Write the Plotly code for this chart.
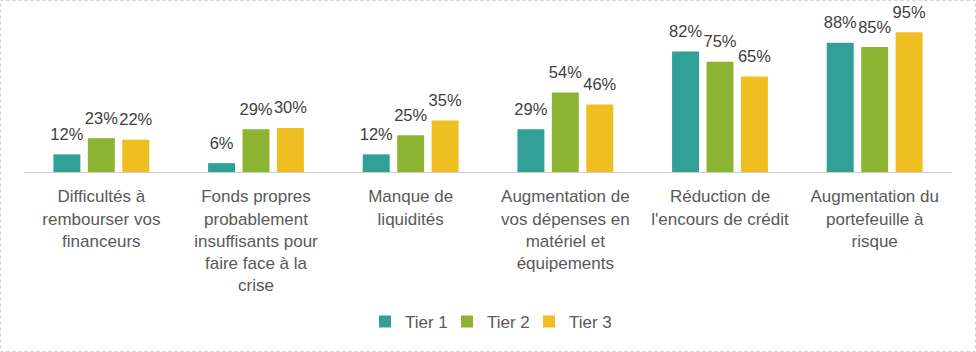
import plotly.graph_objects as go

categories = [
    "Difficultés à<br>rembourser vos<br>financeurs",
    "Fonds propres<br>probablement<br>insuffisants pour<br>faire face à la<br>crise",
    "Manque de<br>liquidités",
    "Augmentation de<br>vos dépenses en<br>matériel et<br>équipements",
    "Réduction de<br>l'encours de crédit",
    "Augmentation du<br>portefeuille à<br>risque",
]
tier1 = [12, 6, 12, 29, 82, 88]
tier2 = [23, 29, 25, 54, 75, 85]
tier3 = [22, 30, 35, 46, 65, 95]
series_names = ["Tier 1", "Tier 2", "Tier 3"]
colors = ["#31A096", "#8DB333", "#F0BE21"]

W, H = 976, 352
ml, mr, mt, mb = 24, 24, 25, 180
FONT = "Liberation Sans, Arial, sans-serif"

fig = go.Figure()
for name, vals, col in zip(series_names, [tier1, tier2, tier3], colors):
    fig.add_trace(go.Bar(
        x=categories, y=vals, name=name,
        marker=dict(color=col, line=dict(width=0)),
        offsetgroup=name,
    ))
for name, vals in zip(series_names, [tier1, tier2, tier3]):
    fig.add_trace(go.Scatter(
        x=categories, y=vals, mode="markers+text", showlegend=False,
        text=[f"{v}%" for v in vals], textposition="top center",
        textfont=dict(family=FONT, size=16.5, color="#404040"),
        marker=dict(size=15, opacity=0),
        offsetgroup=name, cliponaxis=False, hoverinfo="skip",
    ))

pw = W - ml - mr
ph = H - mt - mb
fig.add_shape(
    type="rect", xref="paper", yref="paper",
    x0=(0.5 - ml) / pw, x1=(W - 0.5 - ml) / pw,
    y0=-(H - 0.5 - mt - ph) / ph, y1=(ph + mt - 0.5) / ph,
    line=dict(color="#D0D0D0", width=1, dash="dot"),
    fillcolor="rgba(0,0,0,0)", layer="below",
)

fig.update_layout(
    width=W, height=H,
    margin=dict(l=ml, r=mr, t=mt, b=mb),
    paper_bgcolor="white", plot_bgcolor="white",
    barmode="group", bargap=0.332, bargroupgap=0.217,
    scattermode="group", scattergap=0.332,
    font=dict(family=FONT, color="#595959"),
    showlegend=True,
    legend=dict(
        orientation="h", x=0.5, xanchor="center", y=-1.02, yanchor="middle",
        font=dict(size=17, color="#595959"), itemwidth=30,
        entrywidth=37, entrywidthmode="pixels",
        traceorder="normal",
    ),
)
fig.update_xaxes(
    showline=True, linecolor="#D0D0D0", linewidth=1,
    tickfont=dict(size=17, color="#595959"), ticks="", showgrid=False,
    tickangle=0, fixedrange=True, ticklabelstandoff=9,
)
fig.update_yaxes(
    range=[0, 100], visible=False, showgrid=False, fixedrange=True,
)

fig.write_html("out.html")
